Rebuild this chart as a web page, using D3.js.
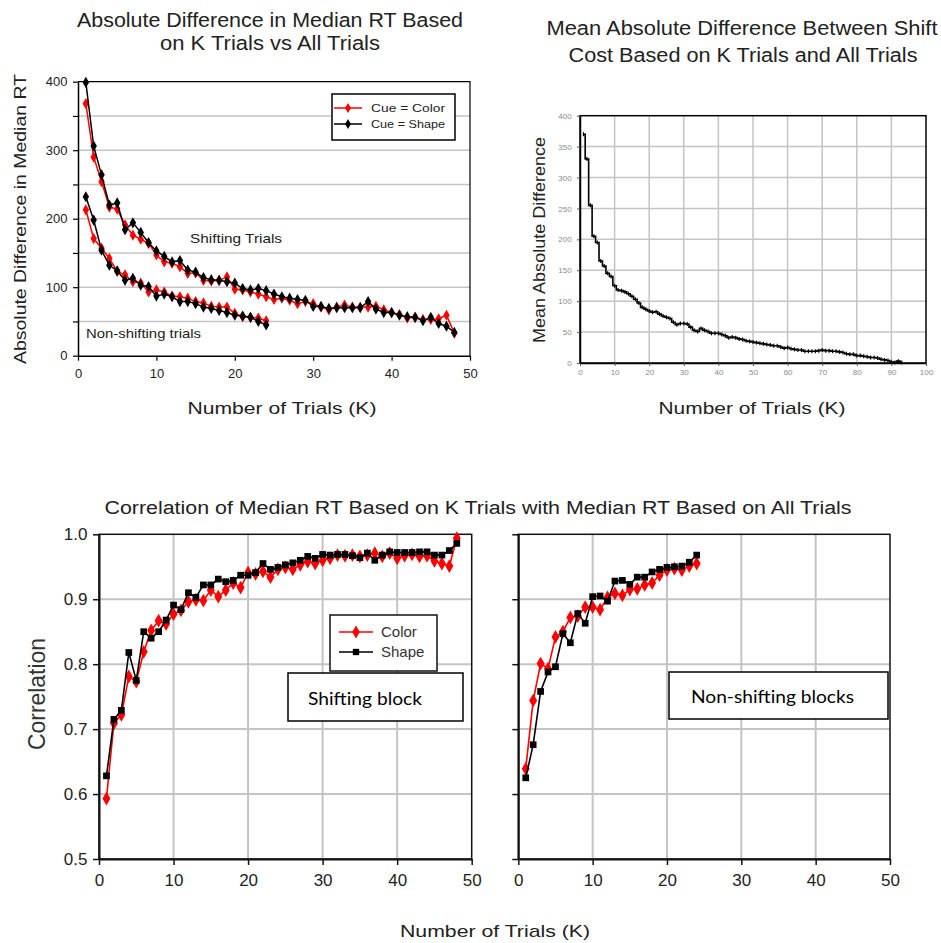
<!DOCTYPE html>
<html><head><meta charset="utf-8">
<script src="https://cdn.jsdelivr.net/npm/d3@7"></script>
<style>body{margin:0;background:#fff}svg{display:block}</style>
</head><body>
<svg id="c" width="941" height="943"></svg>
<script>
// ---- Data ----
// Top-left: absolute difference in median RT, shifting trials (K = 1..48)
const shiftColor = [368,290,254,217,214,191,176,170,164,147,137,135,130,120,121,110,109,110,115,97,96,93,90,86,82,84,81,76,79,76,71,67,71,74,71,71,71,72,67,63,60,55,56,53,53,54,59,33];
const shiftShape = [399,306,264,220,223,184,194,180,165,153,145,137,139,125,122,114,111,110,108,106,98,96,98,95,90,86,84,82,81,72,72,69,70,70,70,70,79,68,63,63,59,57,56,51,56,47,43,34];
// non-shifting trials (K = 1..24)
const nonShiftColor = [213,171,157,142,123,118,108,106,93,96,93,87,86,84,79,77,72,71,71,62,57,56,55,51];
const nonShiftShape = [232,198,154,132,124,110,113,103,101,87,90,86,79,79,76,71,69,66,63,59,58,56,50,45];
// Top-right: mean absolute difference of shift cost (K = 1..93)
const meanAbsDiff = [370,330,255,205,195,165,157,145,140,125,118,117,115,112,108,103,97,90,87,84,82,83,79,76,74,72,66,62,64,64,63,58,53,51,56,53,51,48,48,48,46,44,41,42,41,39,38,36,35,34,33,32,31,30,29,28,28,26,24,25,23,22,21,21,19,19,19,19,20,21,20,20,19,19,18,17,15,14,14,12,12,11,10,9,9,8,6,5,4,2,1,3,1];
// Bottom: correlations, shifting block (K = 1..48)
const corrShiftColor = [0.593,0.709,0.722,0.781,0.773,0.819,0.852,0.867,0.862,0.877,0.883,0.896,0.899,0.898,0.914,0.904,0.914,0.925,0.918,0.941,0.939,0.943,0.934,0.946,0.949,0.946,0.953,0.958,0.955,0.960,0.963,0.968,0.967,0.968,0.966,0.968,0.971,0.966,0.971,0.963,0.967,0.969,0.966,0.967,0.959,0.955,0.951,0.994];
const corrShiftShape = [0.628,0.715,0.729,0.818,0.775,0.850,0.840,0.850,0.868,0.891,0.884,0.910,0.903,0.922,0.922,0.931,0.927,0.929,0.937,0.937,0.941,0.955,0.946,0.949,0.953,0.956,0.960,0.966,0.963,0.969,0.968,0.969,0.969,0.967,0.964,0.971,0.960,0.968,0.973,0.972,0.972,0.972,0.973,0.973,0.968,0.968,0.975,0.986];
// non-shifting blocks (K = 1..24)
const corrNonColor = [0.639,0.744,0.801,0.793,0.842,0.850,0.872,0.874,0.888,0.888,0.884,0.903,0.909,0.906,0.915,0.916,0.922,0.925,0.937,0.945,0.947,0.945,0.951,0.955];
const corrNonShape = [0.625,0.676,0.758,0.788,0.796,0.847,0.833,0.878,0.863,0.904,0.905,0.897,0.928,0.929,0.923,0.934,0.934,0.942,0.946,0.949,0.950,0.951,0.957,0.968];

const xTicks50 = [0,10,20,30,40,50];
const xTicks100 = [0,10,20,30,40,50,60,70,80,90,100];
const yTicksRT = [0,50,100,150,200,250,300,350,400];
const yLabelsRT = [0,100,200,300,400];
const yTicksCorr = [0.5,0.6,0.7,0.8,0.9,1.0];

const svg = d3.select('#c');
const SANS = "'Liberation Sans', Arial, sans-serif";
const NARROW = "'Liberation Sans Narrow', 'Liberation Sans', Arial, sans-serif";
const RED = '#ff0000', BLACK = '#000000', GRID = '#c4c4c4';

function txt(g, s, x, y, o) {
  const t = g.append('text').attr('x', x).attr('y', y).text(s)
    .attr('font-family', o.family || SANS).attr('font-size', o.size)
    .attr('fill', o.fill || '#111').attr('text-anchor', o.anchor || 'middle');
  if (o.len) t.attr('textLength', o.len).attr('lengthAdjust', 'spacingAndGlyphs');
  if (o.weight) t.attr('font-weight', o.weight);
  if (o.rot) t.attr('transform', `rotate(-90,${x},${y})`);
  return t;
}

function series(g, x, y, vals, color, sym, size, lw) {
  const pts = vals.map((v, i) => [i + 1, v]);
  g.append('path').datum(pts)
    .attr('d', d3.line().x(d => x(d[0])).y(d => y(d[1])))
    .attr('fill', 'none').attr('stroke', color).attr('stroke-width', lw);
  g.selectAll(null).data(pts).enter().append('path')
    .attr('d', d3.symbol().type(sym).size(size))
    .attr('transform', d => `translate(${x(d[0])},${y(d[1])})`)
    .attr('fill', color);
}

// ================= Top-left panel =================
{
  const g = svg.append('g');
  const x = d3.scaleLinear().domain([0, 50]).range([78, 470]);
  const y = d3.scaleLinear().domain([0, 400]).range([355.7, 81.7]);
  g.selectAll(null).data(yTicksRT.filter(v => v > 0 && v < 400)).enter().append('line')
    .attr('x1', x(0)).attr('x2', x(50)).attr('y1', d => y(d)).attr('y2', d => y(d))
    .attr('stroke', GRID).attr('stroke-width', 1.5);
  g.append('path').attr('d', `M${x(0)},${y(400)}H${x(50)}V${y(0)}`)
    .attr('fill', 'none').attr('stroke', BLACK).attr('stroke-width', 1.2);
  const ax = g.append('g').attr('transform', `translate(0,${y(0)})`)
    .call(d3.axisBottom(x).tickValues(xTicks50).tickSize(5).tickSizeOuter(0));
  const ay = g.append('g').attr('transform', `translate(${x(0)},0)`)
    .call(d3.axisLeft(y).tickValues(yTicksRT).tickSize(5).tickSizeOuter(0)
      .tickFormat(d => yLabelsRT.includes(d) ? d : ''));
  [ax, ay].forEach(a => {
    a.select('.domain').attr('stroke', BLACK).attr('stroke-width', 1.5);
    a.selectAll('.tick line').attr('stroke', BLACK).attr('stroke-width', 1.2);
    a.selectAll('text').attr('font-family', SANS).attr('font-size', 13).attr('fill', '#222');
  });
  ax.selectAll('text').attr('dy', '1.1em');
  ay.selectAll('text').attr('dx', '-0.2em');
  series(g, x, y, shiftColor, RED, d3.symbolDiamond, 36, 1.5);
  series(g, x, y, nonShiftColor, RED, d3.symbolDiamond, 36, 1.5);
  series(g, x, y, shiftShape, BLACK, d3.symbolDiamond, 36, 1.5);
  series(g, x, y, nonShiftShape, BLACK, d3.symbolDiamond, 36, 1.5);
  g.append('rect').attr('x', 332).attr('y', 94).attr('width', 123).attr('height', 46)
    .attr('fill', '#fff').attr('stroke', BLACK).attr('stroke-width', 1.5);
  [['Cue = Color', RED, 108], ['Cue = Shape', BLACK, 124]].forEach(([s, c, yy]) => {
    g.append('line').attr('x1', 334).attr('x2', 362).attr('y1', yy).attr('y2', yy)
      .attr('stroke', c).attr('stroke-width', 1.5);
    g.append('path').attr('d', d3.symbol().type(d3.symbolDiamond).size(30))
      .attr('transform', `translate(348,${yy})`).attr('fill', c);
    txt(g, s, 371, yy + 4, {size: 11, anchor: 'start', len: 74, fill: '#222'});
  });
  txt(g, 'Shifting Trials', 190, 243, {size: 13, anchor: 'start', len: 92, fill: '#222'});
  txt(g, 'Non-shifting trials', 86, 338, {size: 13, anchor: 'start', len: 115, fill: '#222'});
  txt(svg, 'Absolute Difference in Median RT Based', 270, 27, {size: 20, len: 386, fill: '#222'});
  txt(svg, 'on K Trials vs All Trials', 270, 50, {size: 20, len: 220, fill: '#222'});
  txt(svg, 'Number of Trials (K)', 282, 414, {size: 17, len: 189, fill: '#222'});
  txt(svg, 'Absolute Difference in Median RT', 26, 219, {size: 17, len: 290, rot: true, fill: '#222'});
}

// ================= Top-right panel =================
{
  const g = svg.append('g');
  const x = d3.scaleLinear().domain([0, 100]).range([580, 926]);
  const y = d3.scaleLinear().domain([0, 400]).range([363, 115.7]);
  g.selectAll(null).data(xTicks100.slice(1, -1)).enter().append('line')
    .attr('x1', d => x(d)).attr('x2', d => x(d)).attr('y1', y(0)).attr('y2', y(400))
    .attr('stroke', GRID).attr('stroke-width', 1.5);
  g.selectAll(null).data(yTicksRT.slice(1, -1)).enter().append('line')
    .attr('x1', x(0)).attr('x2', x(100)).attr('y1', d => y(d)).attr('y2', d => y(d))
    .attr('stroke', GRID).attr('stroke-width', 1.5);
  g.append('rect').attr('x', x(0)).attr('y', y(400)).attr('width', x(100) - x(0)).attr('height', y(0) - y(400))
    .attr('fill', 'none').attr('stroke', BLACK).attr('stroke-width', 1.5);
  const ax = g.append('g').attr('transform', `translate(0,${y(0)})`)
    .call(d3.axisBottom(x).tickValues(xTicks100).tickSize(3).tickSizeOuter(0));
  const ay = g.append('g').attr('transform', `translate(${x(0)},0)`)
    .call(d3.axisLeft(y).tickValues(yTicksRT).tickSize(3).tickSizeOuter(0));
  [ax, ay].forEach(a => {
    a.select('.domain').attr('stroke', BLACK).attr('stroke-width', 1.5);
    a.selectAll('.tick line').attr('stroke', '#555');
    a.selectAll('text').attr('font-family', SANS).attr('font-size', 8).attr('fill', '#8a8a8a');
  });
  ay.selectAll('text').attr('dx', '-0.3em');
  const pts = meanAbsDiff.map((v, i) => [i + 1, v]);
  g.append('path').datum(pts)
    .attr('d', d3.line().curve(d3.curveStep).x(d => x(d[0])).y(d => y(d[1])))
    .attr('fill', 'none').attr('stroke', BLACK).attr('stroke-width', 1.6);
  g.selectAll(null).data(pts).enter().append('line')
    .attr('x1', d => x(d[0])).attr('x2', d => x(d[0]))
    .attr('y1', d => y(d[1]) - 2).attr('y2', d => y(d[1]) + 2)
    .attr('stroke', BLACK).attr('stroke-width', 1.2);
  txt(svg, 'Mean Absolute Difference Between Shift', 742, 35, {size: 20, len: 391, fill: '#222'});
  txt(svg, 'Cost Based on K Trials and All Trials', 743, 62, {size: 20, len: 349, fill: '#222'});
  txt(svg, 'Number of Trials (K)', 752, 414, {size: 17, len: 187, fill: '#222'});
  txt(svg, 'Mean Absolute Difference', 545, 240, {size: 17, len: 206, rot: true, fill: '#222'});
}

// ================= Bottom panels =================
function corrPanel(x0, x1, colorVals, shapeVals, showY) {
  const g = svg.append('g');
  const x = d3.scaleLinear().domain([0, 50]).range([x0, x1]);
  const y = d3.scaleLinear().domain([0.5, 1.0]).range([859, 534.3]);
  g.selectAll(null).data(xTicks50.slice(1, -1)).enter().append('line')
    .attr('x1', d => x(d)).attr('x2', d => x(d)).attr('y1', y(0.5)).attr('y2', y(1))
    .attr('stroke', GRID).attr('stroke-width', 2);
  g.selectAll(null).data(yTicksCorr.slice(1, -1)).enter().append('line')
    .attr('x1', x(0)).attr('x2', x(50)).attr('y1', d => y(d)).attr('y2', d => y(d))
    .attr('stroke', GRID).attr('stroke-width', 2);
  g.append('rect').attr('x', x(0)).attr('y', y(1)).attr('width', x(50) - x(0)).attr('height', y(0.5) - y(1))
    .attr('fill', 'none').attr('stroke', '#111').attr('stroke-width', 1.5);
  const ax = g.append('g').attr('transform', `translate(0,${y(0.5)})`)
    .call(d3.axisBottom(x).tickValues(xTicks50).tickSize(6).tickSizeOuter(0));
  const ay = g.append('g').attr('transform', `translate(${x(0)},0)`)
    .call(d3.axisLeft(y).tickValues(yTicksCorr).tickSize(6).tickSizeOuter(0)
      .tickFormat(d => showY ? d3.format('.1f')(d) : ''));
  [ax, ay].forEach(a => {
    a.select('.domain').attr('stroke', '#111').attr('stroke-width', 2);
    a.selectAll('.tick line').attr('stroke', '#111').attr('stroke-width', 1.5);
    a.selectAll('text').attr('font-family', NARROW).attr('font-size', 17).attr('fill', '#222');
  });
  ax.selectAll('text').attr('dy', '1.05em');
  ay.selectAll('text').attr('dx', '-0.15em');
  series(g, x, y, colorVals, RED, d3.symbolDiamond, 55, 1.6);
  series(g, x, y, shapeVals, BLACK, d3.symbolSquare, 45, 1.6);
  return g;
}
const gbl = corrPanel(99, 471.7, corrShiftColor, corrShiftShape, true);
const gbr = corrPanel(518.3, 890, corrNonColor, corrNonShape, false);
gbl.append('rect').attr('x', 330).attr('y', 615).attr('width', 107).attr('height', 56)
  .attr('fill', '#fff').attr('stroke', '#111').attr('stroke-width', 1.5);
[['Color', RED, 632, d3.symbolDiamond, 50], ['Shape', BLACK, 652, d3.symbolSquare, 40]].forEach(([s, c, yy, sym, sz]) => {
  gbl.append('line').attr('x1', 339).attr('x2', 373).attr('y1', yy).attr('y2', yy)
    .attr('stroke', c).attr('stroke-width', 1.6);
  gbl.append('path').attr('d', d3.symbol().type(sym).size(sz))
    .attr('transform', `translate(356,${yy})`).attr('fill', c);
  txt(gbl, s, 381, yy + 5, {size: 15, anchor: 'start', fill: '#333'});
});
gbl.append('rect').attr('x', 288).attr('y', 673).attr('width', 175).attr('height', 48)
  .attr('fill', '#fff').attr('stroke', BLACK).attr('stroke-width', 1.5);
txt(gbl, 'Shifting block', 308, 705, {size: 17, anchor: 'start', family: "Lato, 'Open Sans', sans-serif", len: 114, fill: '#000'});
gbr.append('rect').attr('x', 669).attr('y', 672).attr('width', 219).attr('height', 47)
  .attr('fill', '#fff').attr('stroke', BLACK).attr('stroke-width', 1.5);
txt(gbr, 'Non-shifting blocks', 691, 703, {size: 17, anchor: 'start', family: "Lato, 'Open Sans', sans-serif", len: 163, fill: '#000'});
txt(svg, 'Correlation of Median RT Based on K Trials with Median RT Based on All Trials', 478, 514, {size: 18, len: 747, fill: '#222'});
txt(svg, 'Correlation', 45, 694, {size: 24, len: 112, rot: true, fill: '#333'});
txt(svg, 'Number of Trials (K)', 495, 937, {size: 17, family: NARROW, len: 190, fill: '#222'});
</script>
</body></html>
